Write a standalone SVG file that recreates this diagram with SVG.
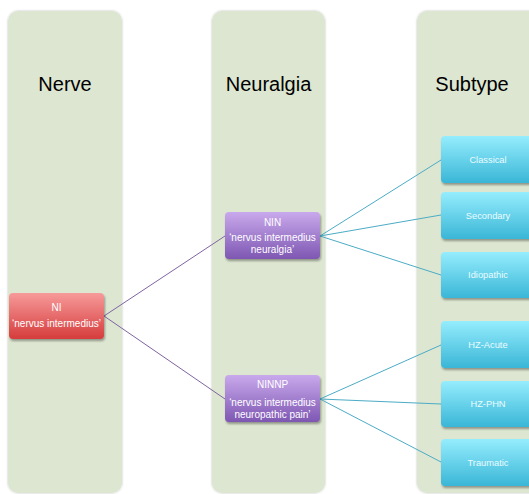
<svg xmlns="http://www.w3.org/2000/svg" width="529" height="494" viewBox="0 0 529 494">
<defs>
<linearGradient id="gRed" x1="0" y1="0" x2="0" y2="1"><stop offset="0" stop-color="#f79a9a"/><stop offset="1" stop-color="#d63c3c"/></linearGradient>
<linearGradient id="gPur" x1="0" y1="0" x2="0" y2="1"><stop offset="0" stop-color="#c9a9ec"/><stop offset="1" stop-color="#7e57b2"/></linearGradient>
<linearGradient id="gCy" x1="0" y1="0" x2="0" y2="1"><stop offset="0" stop-color="#95edfd"/><stop offset="1" stop-color="#3ab6d7"/></linearGradient>
<filter id="sh" x="-10%" y="-10%" width="130%" height="140%"><feDropShadow dx="1" dy="2" stdDeviation="1.2" flood-color="#000" flood-opacity="0.35"/></filter>
<filter id="csh" x="-5%" y="-5%" width="110%" height="110%"><feDropShadow dx="0" dy="0" stdDeviation="0.8" flood-color="#000" flood-opacity="0.25"/></filter>
</defs>
<style>
.col{fill:#dde6d1;filter:url(#csh)}
.hd{font-family:"Liberation Sans",Arial,sans-serif;font-size:20px;fill:#000;text-anchor:middle}
.t{font-family:"Liberation Sans",Arial,sans-serif;font-size:10px;fill:#ffffff;text-anchor:middle}
.tc{font-family:"Liberation Sans",Arial,sans-serif;font-size:9.3px;fill:#eafcff;text-anchor:middle}
.pl{stroke:#8064a2;stroke-width:1;fill:none}
.cl{stroke:#4bacc6;stroke-width:1;fill:none}
</style>
<rect width="529" height="494" fill="#fff"/>
<g id="col-nerve"><rect class="col" x="8" y="11" width="114" height="482" rx="10"/><text class="hd" x="65" y="91">Nerve</text></g>
<g id="col-neuralgia"><rect class="col" x="212" y="11" width="113" height="482" rx="10"/><text class="hd" x="268.5" y="91">Neuralgia</text></g>
<g id="col-subtype"><rect class="col" x="417" y="11" width="124" height="482" rx="10"/><text class="hd" x="472" y="91">Subtype</text></g>
<g id="connectors">
<line class="pl" x1="104" y1="316" x2="225" y2="236"/>
<line class="pl" x1="104" y1="316" x2="225" y2="399"/>
<line class="cl" x1="320" y1="236" x2="441" y2="160"/>
<line class="cl" x1="320" y1="236" x2="441" y2="215"/>
<line class="cl" x1="320" y1="236" x2="441" y2="275"/>
<line class="cl" x1="320" y1="399" x2="441" y2="345"/>
<line class="cl" x1="320" y1="399" x2="441" y2="404"/>
<line class="cl" x1="320" y1="399" x2="441" y2="462"/>
</g>
<g id="NI"><rect x="9" y="293" width="95" height="46" rx="4" fill="url(#gRed)" filter="url(#sh)"/><text class="t" x="56.5" y="311">NI</text><text class="t" x="56.5" y="327">‘nervus intermedius’</text></g>
<g id="NIN"><rect x="225" y="212" width="95" height="47" rx="4" fill="url(#gPur)" filter="url(#sh)"/><text class="t" x="272.5" y="226">NIN</text><text class="t" x="272.5" y="241">‘nervus intermedius</text><text class="t" x="272.5" y="253">neuralgia’</text></g>
<g id="NINNP"><rect x="225" y="375" width="95" height="47" rx="4" fill="url(#gPur)" filter="url(#sh)"/><text class="t" x="272.5" y="388">NINNP</text><text class="t" x="272.5" y="406">‘nervus intermedius</text><text class="t" x="272.5" y="418">neuropathic pain’</text></g>
<g id="Classical"><rect x="441" y="136" width="95" height="47" rx="4" fill="url(#gCy)" filter="url(#sh)"/><text class="tc" x="488" y="163">Classical</text></g>
<g id="Secondary"><rect x="441" y="192" width="95" height="47" rx="4" fill="url(#gCy)" filter="url(#sh)"/><text class="tc" x="488" y="219">Secondary</text></g>
<g id="Idiopathic"><rect x="441" y="252" width="95" height="46" rx="4" fill="url(#gCy)" filter="url(#sh)"/><text class="tc" x="488" y="278">Idiopathic</text></g>
<g id="HZ-Acute"><rect x="441" y="321" width="95" height="47" rx="4" fill="url(#gCy)" filter="url(#sh)"/><text class="tc" x="488" y="348">HZ-Acute</text></g>
<g id="HZ-PHN"><rect x="441" y="381" width="95" height="46" rx="4" fill="url(#gCy)" filter="url(#sh)"/><text class="tc" x="488" y="407">HZ-PHN</text></g>
<g id="Traumatic"><rect x="441" y="439" width="95" height="47" rx="4" fill="url(#gCy)" filter="url(#sh)"/><text class="tc" x="488" y="466">Traumatic</text></g>
</svg>
